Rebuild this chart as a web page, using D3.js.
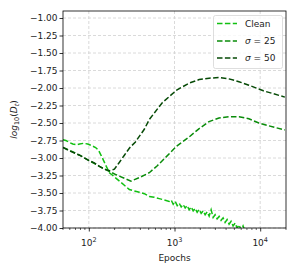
<!DOCTYPE html>
<html>
<head>
<meta charset="utf-8">
<script src="https://cdn.jsdelivr.net/npm/d3@7"></script>
<style>
  body { margin: 0; background: #fff; }
  svg { display: block; font-family: 'DejaVu Sans', sans-serif; }
</style>
</head>
<body>
<svg id="chart"></svg>
<script>
// series data (epochs, log10(D_t))
let cleanEpochs = [50, 54, 60, 65, 72, 78, 87, 97, 107, 120, 130, 140, 148, 160, 174, 199, 228, 260, 297, 340, 389, 444, 508, 580, 664, 760, 867,
    915, 966, 1019, 1075, 1134, 1197, 1263, 1332, 1406, 1483, 1565, 1651, 1742, 1838, 1939, 2046, 2159, 2278, 2403, 2536,
    2675, 2823, 2978, 3143, 3316, 3498, 3691, 3895, 4109, 4336, 4575, 4827, 5093, 5373, 5670, 5982, 6312, 6660, 7027]
let cleanVals = [-2.74, -2.75, -2.78, -2.80, -2.81, -2.80, -2.79, -2.80, -2.82, -2.85, -2.89, -2.97, -3.03, -3.12, -3.21, -3.27, -3.33, -3.39, -3.45, -3.47, -3.49, -3.51, -3.55, -3.56, -3.58, -3.60, -3.62,
    -3.60, -3.66, -3.62, -3.68, -3.645, -3.70, -3.665, -3.715, -3.68, -3.74, -3.70, -3.755, -3.72, -3.775, -3.735, -3.79, -3.755, -3.81, -3.77, -3.83,
    -3.74, -3.85, -3.81, -3.87, -3.835, -3.89, -3.855, -3.92, -3.88, -3.945, -3.905, -3.97, -3.93, -4.00, -3.955, -4.03, -3.97, -4.05, -4.02]

let s25Epochs = [50, 60, 78, 102, 133, 160, 209, 272, 311, 389, 508, 630, 720, 1060, 1480, 1940, 2530, 3300, 4320, 5650, 7380, 9640, 12600, 19400]
let s25Vals = [-2.85, -2.89, -2.96, -3.04, -3.12, -3.17, -3.24, -3.30, -3.33, -3.28, -3.21, -3.11, -3.04, -2.83, -2.70, -2.58, -2.48, -2.43, -2.41, -2.41, -2.44, -2.50, -2.54, -2.60]

let s50Epochs = [50, 60, 78, 102, 116, 133, 152, 174, 199, 228, 260, 297, 350, 444, 508, 720, 1060, 1480, 1940, 2530, 3300, 4320, 5650, 7380, 10900, 19400]
let s50Vals = [-2.85, -2.90, -2.96, -3.04, -3.07, -3.12, -3.16, -3.18, -3.16, -3.06, -2.96, -2.86, -2.77, -2.59, -2.45, -2.21, -2.03, -1.93, -1.88, -1.86, -1.85, -1.87, -1.91, -1.96, -2.04, -2.13]

let seriesNames = ['Clean', '25', '50']
let seriesColors = ['#11c011', '#0a8c0a', '#064a06']

let yTicks = [-4.00, -3.75, -3.50, -3.25, -3.00, -2.75, -2.50, -2.25, -2.00, -1.75, -1.50, -1.25, -1.00]
let xTicks = [100, 1000, 10000]
let xTickExp = ['2', '3', '4']

// canvas
let width = 296
let height = 270
let padLeft = 63, padRight = 286, padTop = 11, padBottom = 228

let svg = d3.select('#chart').attr('width', width).attr('height', height)

let xScale = d3.scaleLog().domain([50, 20000]).range([padLeft, padRight])
let yScale = d3.scaleLinear().domain([-4, -0.9]).range([padBottom, padTop])

// grid
let grid = svg.append('g')
grid.selectAll('line.gx').data(xTicks).enter().append('line')
    .attr('x1', d => xScale(d)).attr('x2', d => xScale(d))
    .attr('y1', padTop).attr('y2', padBottom)
    .attr('stroke', '#d0d0d0').attr('stroke-width', 0.8).attr('stroke-dasharray', '3,2')
grid.selectAll('line.gy').data(yTicks).enter().append('line')
    .attr('x1', padLeft).attr('x2', padRight)
    .attr('y1', d => yScale(d)).attr('y2', d => yScale(d))
    .attr('stroke', '#d0d0d0').attr('stroke-width', 0.8).attr('stroke-dasharray', '3,2')

// clip
svg.append('clipPath').attr('id', 'clip').append('rect')
    .attr('x', padLeft).attr('y', padTop).attr('width', padRight - padLeft).attr('height', padBottom - padTop)

let line = d3.line().x(d => xScale(d[0])).y(d => yScale(d[1]))
let series = [
    d3.zip(cleanEpochs, cleanVals),
    d3.zip(s25Epochs, s25Vals),
    d3.zip(s50Epochs, s50Vals)
]
let plot = svg.append('g').attr('clip-path', 'url(#clip)')
series.forEach((s, i) => {
    plot.append('path')
        .attr('d', line(s))
        .attr('fill', 'none')
        .attr('stroke', seriesColors[i])
        .attr('stroke-width', 1.5)
        .attr('stroke-dasharray', '5.5,2.4')
})

// axes
let xAxis = d3.axisBottom(xScale).tickValues(xTicks).tickSize(3.5).tickFormat('')
let xMinor = []
for (let dec of [10, 100, 1000, 10000]) {
    for (let k = 2; k <= 9; k++) {
        let v = dec * k
        if (v >= 50 && v <= 20000) xMinor.push(v)
    }
}
let gx = svg.append('g').attr('transform', 'translate(0,' + padBottom + ')').call(xAxis)
gx.select('.domain').remove()
gx.selectAll('.tick line').attr('stroke', '#000').attr('stroke-width', 0.8)
gx.selectAll('line.minor').data(xMinor).enter().append('line')
    .attr('x1', d => xScale(d)).attr('x2', d => xScale(d))
    .attr('y1', 0).attr('y2', 2)
    .attr('stroke', '#000').attr('stroke-width', 0.6)

xTicks.forEach((t, i) => {
    let txt = svg.append('text')
        .attr('x', xScale(t)).attr('y', padBottom + 18)
        .attr('text-anchor', 'middle')
        .attr('font-size', 9).attr('fill', '#222')
    txt.append('tspan').text('10')
    txt.append('tspan').attr('dy', -4).attr('font-size', 6.5).text(xTickExp[i])
})

let yAxis = d3.axisLeft(yScale).tickValues(yTicks).tickSize(3.5).tickFormat(d => d3.format('.2f')(d).replace('-', '\u2212'))
let gy = svg.append('g').attr('transform', 'translate(' + padLeft + ',0)').call(yAxis)
gy.select('.domain').remove()
gy.selectAll('.tick line').attr('stroke', '#000').attr('stroke-width', 0.8)
gy.selectAll('.tick text').attr('font-size', 9).attr('fill', '#222').attr('font-family', 'DejaVu Sans').attr('x', -5.5)

// frame
svg.append('rect').attr('x', padLeft).attr('y', padTop).attr('width', padRight - padLeft).attr('height', padBottom - padTop)
    .attr('fill', 'none').attr('stroke', '#000').attr('stroke-width', 0.8)

// labels
svg.append('text').attr('x', (padLeft + padRight) / 2).attr('y', 261)
    .attr('text-anchor', 'middle').attr('font-size', 9).attr('fill', '#222').text('Epochs')

let yl = svg.append('text')
    .attr('transform', 'translate(17,' + ((padTop + padBottom) / 2) + ') rotate(-90)')
    .attr('text-anchor', 'middle').attr('font-size', 9).attr('fill', '#222')
yl.append('tspan').attr('font-style', 'italic').text('log')
yl.append('tspan').attr('dy', 2).attr('font-size', 6.5).text('10')
yl.append('tspan').attr('dy', -2).text('(')
yl.append('tspan').attr('font-style', 'italic').text('D')
yl.append('tspan').attr('dy', 2).attr('font-size', 6.5).attr('font-style', 'italic').text('t')
yl.append('tspan').attr('dy', -2).text(')')

// legend
let lg = svg.append('g')
lg.append('rect').attr('x', 213.5).attr('y', 15.5).attr('width', 69).attr('height', 53).attr('rx', 2)
    .attr('fill', '#fff').attr('fill-opacity', 0.8).attr('stroke', '#d6d6d6').attr('stroke-width', 0.8)
let rowY = [23.5, 41, 58]
seriesNames.forEach((name, i) => {
    lg.append('line').attr('x1', 217).attr('x2', 237).attr('y1', rowY[i]).attr('y2', rowY[i])
        .attr('stroke', seriesColors[i]).attr('stroke-width', 1.5).attr('stroke-dasharray', '5.5,2.4')
    let t = lg.append('text').attr('x', 245).attr('y', rowY[i] + 3.2).attr('font-size', 9).attr('fill', '#222')
    if (i === 0) {
        t.text(name)
    } else {
        t.append('tspan').attr('font-style', 'italic').text('\u03c3')
        t.append('tspan').text(' = ' + name)
    }
})
</script>
</body>
</html>
